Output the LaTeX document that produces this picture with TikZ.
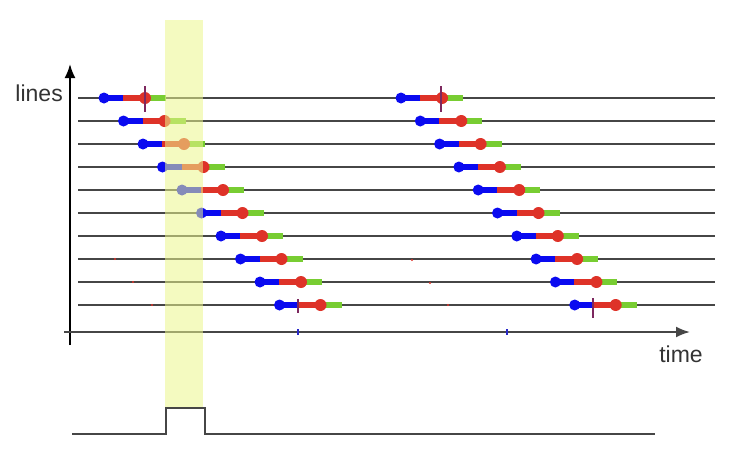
\documentclass[tikz,border=0pt]{standalone}
\usepackage{fontspec}
\setmainfont{Liberation Sans}
\usepackage{xcolor}
\usetikzlibrary{arrows.meta, positioning}

\definecolor{pipeblue}{RGB}{10,10,240}
\definecolor{pipered}{RGB}{222,50,40}
\definecolor{pipegreen}{RGB}{120,205,50}
\definecolor{lanegray}{RGB}{70,70,70}
\definecolor{bandyellow}{RGB}{235,245,140}
\definecolor{tickpurple}{RGB}{125,40,95}
\definecolor{tickblue}{RGB}{40,40,200}

\begin{document}
\begin{tikzpicture}[
            x=1pt, y=-1pt,
            lane/.style={draw=lanegray, line width=2.6pt},
            axis/.style={line width=2pt, -{Latex[length=14pt,width=11pt]}},
            stage/.style={line width=5.5pt},
            label/.style={font=\fontsize{23}{26}\selectfont, text=black!80, inner sep=0pt},
            tickmark/.style={draw=tickpurple, line width=1.6pt}
        ]
        \useasboundingbox (0,0) rectangle (731,469);

        % Axes
        \coordinate (ybot) at (70,345);
        \coordinate (ytop) at (70,64);
        \coordinate (xleft) at (64,332);
        \coordinate (xright) at (690,332);
        \draw[axis, black] (ybot) -- (ytop);
        \draw[axis, lanegray] (xleft) -- (xright);
        \node[label, anchor=east] (lineslbl) at (63,93) {lines};
        \node[label] (timelbl) at (681,354) {time};
        \foreach \x in {298, 507}
            \draw[tickblue, line width=1.5pt] (\x,329) -- (\x,335);

        % Lines
        \foreach \i in {0,...,9}
            \draw[lane] (78,98+23*\i) -- (715,98+23*\i);

        % Pipeline stages
        \foreach \g/\d in {104/19.5, 401/19.3} {
            \foreach \i in {0,...,9} {
                \pgfmathsetmacro{\xs}{\g+\d*\i}
                \pgfmathsetmacro{\yl}{98+23*\i}
                \draw[stage, pipegreen] (\xs+41,\yl) -- (\xs+62,\yl);
                \draw[stage, pipered] (\xs+19,\yl) -- (\xs+41,\yl);
                \draw[stage, pipeblue] (\xs,\yl) -- (\xs+19,\yl);
                \fill[pipeblue] (\xs,\yl) circle (5.5);
                \fill[pipered] (\xs+41,\yl) circle (6);
            }
        }
        \draw[tickmark] (145,86) -- (145,112);
        \draw[tickmark] (298,299) -- (298,313);
        \draw[tickmark] (441,86) -- (441,112);
        \draw[tickmark] (593,298) -- (593,318);
        \foreach \p in {(115,259), (133,282), (152,305), (412,260), (430,283), (448,305)}
            \fill[pipered] \p circle (1.2);

        % Highlight band
        \fill[bandyellow, fill opacity=0.55] (165,20) rectangle (203,408);

        % Pulse
        \draw[lanegray, line width=2pt] (72,434) -- (166,434) -- (166,408) -- (205,408) -- (205,434) -- (655,434);

    \end{tikzpicture}
\end{document}
